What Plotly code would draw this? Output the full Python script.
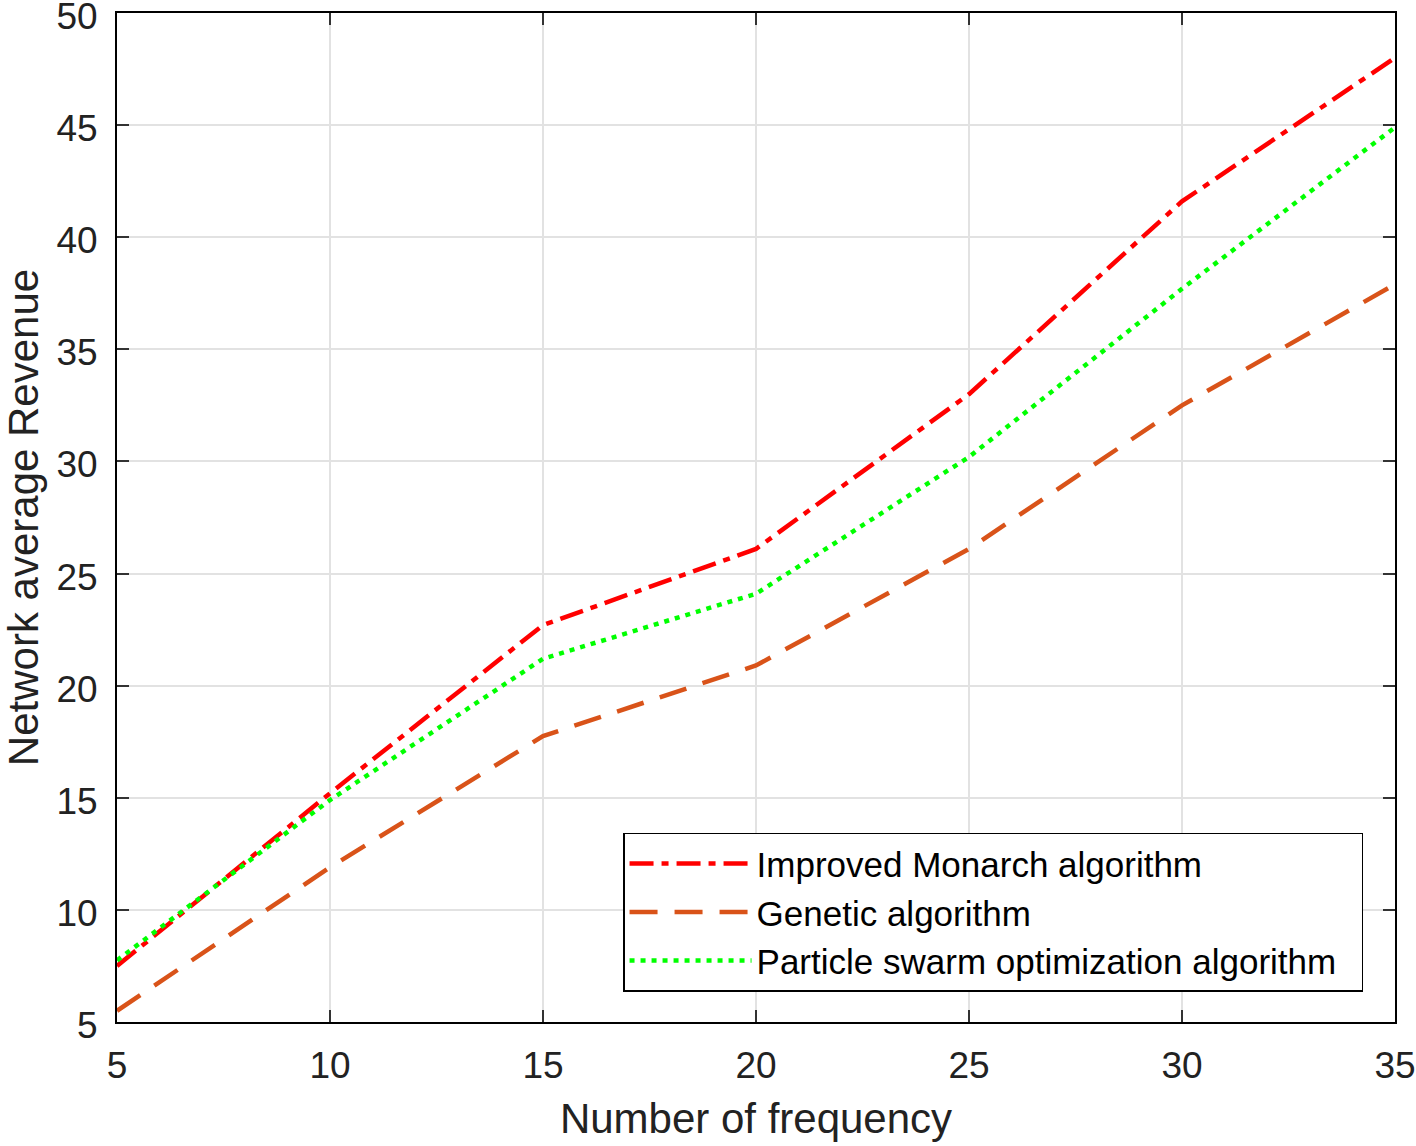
import plotly.graph_objects as go

freq = [5, 10, 15, 20, 25, 30, 35]
improved_monarch = [7.5, 15.2, 22.7, 26.1, 33.0, 41.6, 48.0]
genetic = [5.5, 11.9, 17.75, 20.9, 26.1, 32.5, 37.9]
pso = [7.75, 14.9, 21.2, 24.1, 30.2, 37.7, 44.9]

xticks = [5, 10, 15, 20, 25, 30, 35]
yticks = [5, 10, 15, 20, 25, 30, 35, 40, 45, 50]

FONT = "Liberation Sans, Arial"
NB = "\u00a0"

fig = go.Figure()
fig.add_trace(go.Scatter(x=freq, y=improved_monarch, mode="lines", name="Improved Monarch algorithm",
                         line=dict(color="#ff0000", width=4.5, dash="24px,8px,7px,8px")))
fig.add_trace(go.Scatter(x=freq, y=genetic, mode="lines", name="Genetic algorithm",
                         line=dict(color="#d95319", width=4.5, dash="28px,17px")))
fig.add_trace(go.Scatter(x=freq, y=pso, mode="lines", name="Particle swarm optimization algorithm" + NB + NB,
                         line=dict(color="#00ff00", width=4.5, dash="5px,6px")))

axis_common = dict(showline=True, linecolor="black", linewidth=2, mirror="ticks",
                   ticks="inside", ticklen=12, tickwidth=2, tickcolor="#333",
                   showgrid=True, gridcolor="#e2e2e2", gridwidth=2, zeroline=False,
                   automargin=False, ticklabeloverflow="allow",
                   tickfont=dict(family=FONT, size=37, color="#222"))

fig.update_xaxes(range=[5, 35], tickvals=xticks, ticktext=[str(v) for v in xticks],
                 ticklabelstandoff=10,
                 title=dict(text="Number of frequency", font=dict(family=FONT, size=42, color="#222"), standoff=18),
                 **axis_common)
fig.update_yaxes(range=[5, 50], tickvals=yticks, ticktext=[str(v) for v in yticks],
                 ticklabelstandoff=10, ticklabelshift=3,
                 title=dict(text="Network average Revenue", font=dict(family=FONT, size=42, color="#222"), standoff=22),
                 **axis_common)

fig.update_layout(
    width=1416, height=1146,
    margin=dict(l=117, r=21, t=13, b=124),
    plot_bgcolor="white", paper_bgcolor="white",
    legend=dict(x=0.975, y=0.030, xanchor="right", yanchor="bottom",
                bgcolor="white", bordercolor="black", borderwidth=1.5,
                font=dict(family=FONT, size=35, color="black"),
                itemwidth=122, tracegroupgap=0),
    showlegend=True,
)

fig.write_html("out.html", config={"displayModeBar": False},
               post_script="document.body.style.margin='0';document.body.style.overflow='hidden';")
